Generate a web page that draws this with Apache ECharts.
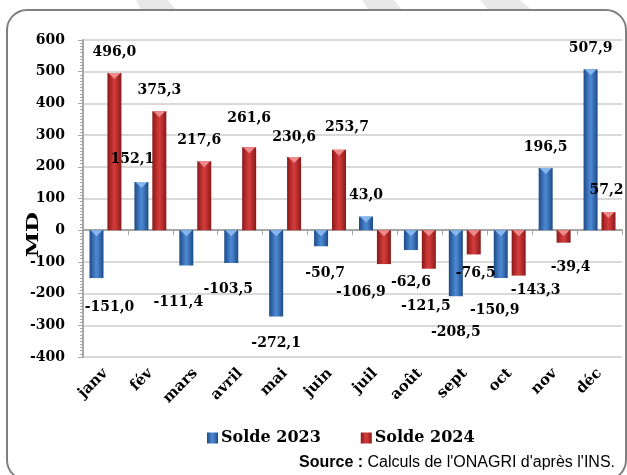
<!DOCTYPE html>
<html>
<head>
<meta charset="utf-8">
<script src="https://cdn.jsdelivr.net/npm/echarts@6/dist/echarts.min.js"></script>
<style>
html,body{margin:0;padding:0;background:#fff;}
#c{width:627px;height:475px;}
</style>
</head>
<body>
<div id="c"></div>
<script>
var months = ['janv','fév','mars','avril','mai','juin','juil','août','sept','oct','nov','déc'];
var solde2023 = [-151.0, 152.1, -111.4, -103.5, -272.1, -50.7, 43.0, -62.6, -208.5, -150.9, 196.5, 507.9];
var solde2024 = [496.0, 375.3, 217.6, 261.6, 230.6, 253.7, -106.9, -121.5, -76.5, -143.3, -39.4, 57.2];
var yTicks = {min: -400, max: 600, interval: 100};
// label nudges (dx, dy) in px, relative to default outside position
var shift2023 = [[13,8],[-9,-2],[-8,16],[-3,5],[0,6],[4,6],[0,0],[0,11],[0,15],[-6,11],[0,0],[0,0]];
var shift2024 = [[0,0],[0,0],[-5,0],[0,-8],[0,1],[8,-1],[-23,7],[-3,17],[2,-2],[17,-6],[7,4],[-2,-1]];

function fmt(v){ return v.toFixed(1).replace('.', ','); }

function buildData(vals, shifts){
  return vals.map(function(v, i){
    return {
      value: v,
      label: { position: v >= 0 ? 'top' : 'bottom', offset: shifts[i] }
    };
  });
}
var triDown = 'path://M0,0 L2,0 L1,1 Z';
var triUp = 'path://M1,0 L2,1 L0,1 Z';
function triData(vals){
  return vals.map(function(v){
    return { value: v, symbolPosition: v >= 0 ? 'end' : 'start', symbol: v >= 0 ? triDown : triUp };
  });
}

var G = echarts.graphic;
var blueGrad = new G.LinearGradient(0,0,1,0,[
  {offset:0,color:'#1d4a85'},{offset:0.45,color:'#4a86d0'},{offset:0.55,color:'#4a86d0'},{offset:1,color:'#1d4a85'}]);
var redGrad = new G.LinearGradient(0,0,1,0,[
  {offset:0,color:'#8a1818'},{offset:0.45,color:'#d03a3a'},{offset:0.55,color:'#d03a3a'},{offset:1,color:'#8a1818'}]);

var serif = 'DejaVu Serif';
var labelStyle = {
  show: true, distance: 14,
  fontFamily: serif, fontWeight: 'bold', fontSize: 14, color: '#000',
  formatter: function(p){ return fmt(p.value); }
};

var chart = echarts.init(document.getElementById('c'), null, {renderer:'canvas'});
chart.setOption({
  backgroundColor: '#ffffff',
  animation: false,
  graphic: [
    {type:'polygon', z:-10, shape:{points:[[136,0],[168,0],[178,12],[142,12]]}, style:{fill:'#e8e8e8'}},
    {type:'polygon', z:-10, shape:{points:[[362,0],[394,0],[404,12],[370,12]]}, style:{fill:'#e8e8e8'}},
    {type:'polygon', z:-10, shape:{points:[[480,0],[520,0],[534,12],[490,12]]}, style:{fill:'#e8e8e8'}},
    {type:'rect', z:-9, shape:{x:7, y:10, width:619, height:470, r:20},
      style:{fill:'#ffffff', stroke:'#808080', lineWidth:2}},
    {type:'text', left: 25, top: 212, rotation: Math.PI/2, scaleX: 1.35,
      style:{text:'MD', font:'bold 17px "DejaVu Serif"', fill:'#000'}},
    {type:'text', right: 12, top: 455,
      style:{
        text:'{b|Source :} Calculs de l\'ONAGRI d\'après l\'INS.',
        font:'16px "Liberation Sans"', fill:'#000',
        rich:{ b:{font:'bold 16px "Liberation Sans"', fill:'#000'} }
      }}
  ],
  legend: {
    data: ['Solde 2023','Solde 2024'],
    left: 202, top: 425,
    itemWidth: 11, itemHeight: 11, itemGap: 40,
    icon: 'rect',
    textStyle: {fontFamily: serif, fontWeight:'bold', fontSize:16, color:'#000', padding:[0,0,0,-2]}
  },
  grid: {left: 83, right: 5, top: 40, bottom: 118, containLabel: false},
  xAxis: [
    {
      type:'category', data: months, position:'bottom',
      axisLine:{show:false, onZero:false}, axisTick:{show:false},
      axisLabel:{rotate:45, margin:14, fontFamily: serif, fontWeight:'bold', fontSize:15, color:'#000'}
    },
    {
      type:'category', data: months, position:'bottom',
      axisLine:{show:true, onZero:true, lineStyle:{color:'#a6a6a6', width:2}},
      axisTick:{show:true, length:5, lineStyle:{color:'#a6a6a6'}},
      axisLabel:{show:false}, splitLine:{show:false}
    }
  ],
  yAxis: {
    type:'value', min: yTicks.min, max: yTicks.max, interval: yTicks.interval,
    axisLine:{show:true, lineStyle:{color:'#a6a6a6', width:2}},
    axisTick:{show:true, length:5, lineStyle:{color:'#a6a6a6'}},
    minorTick:{show:true, splitNumber:10, length:3, lineStyle:{color:'#a6a6a6'}},
    splitLine:{show:true, lineStyle:{color:'#d9d9d9', width:2}},
    axisLabel:{margin:18, fontFamily: serif, fontWeight:'bold', fontSize:14, color:'#000'}
  },
  series: [
    {
      name:'Solde 2023', type:'bar', xAxisIndex:0, barWidth:14, barGap:'28%',
      itemStyle:{color: blueGrad},
      label: labelStyle,
      data: buildData(solde2023, shift2023)
    },
    {
      name:'Solde 2024', type:'bar', xAxisIndex:0, barWidth:14, barGap:'28%',
      itemStyle:{color: redGrad},
      label: labelStyle,
      data: buildData(solde2024, shift2024)
    },
    {
      name:'tri2023', type:'pictorialBar', xAxisIndex:0, barWidth:14, barGap:'28%', z:5,
      symbolSize:[12,6],
      itemStyle:{color:'#86b6ee'}, silent:true,
      data: triData(solde2023)
    },
    {
      name:'tri2024', type:'pictorialBar', xAxisIndex:0, barWidth:14, barGap:'28%', z:5,
      symbolSize:[12,6],
      itemStyle:{color:'#f08a8a'}, silent:true,
      data: triData(solde2024)
    }
  ]
});
</script>
</body>
</html>
